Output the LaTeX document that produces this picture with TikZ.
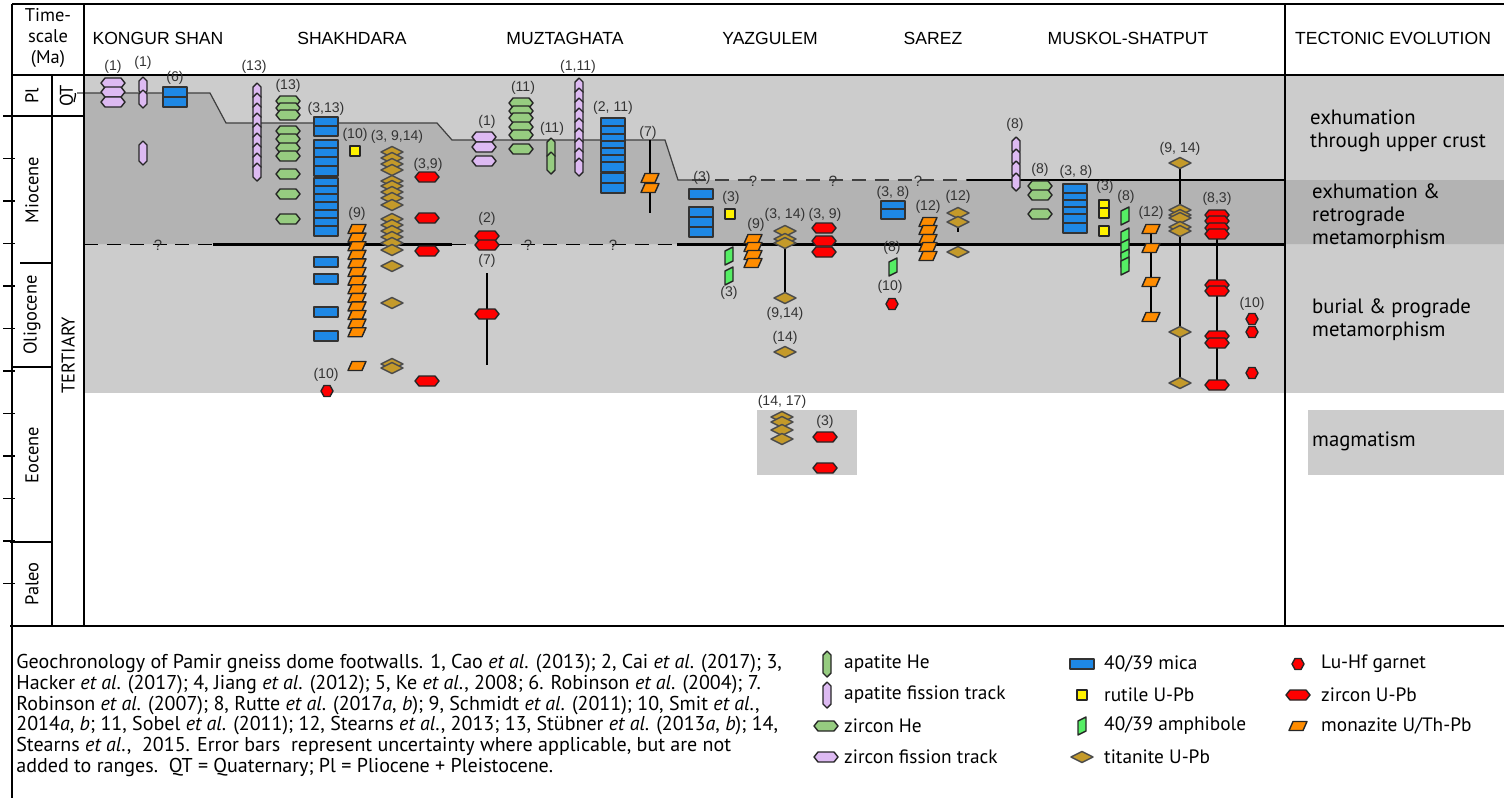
\documentclass[tikz,border=0pt]{standalone}
\usepackage{fontspec}
\setmainfont{Liberation Sans}
\newfontfamily\myriad{PT Sans}
\usetikzlibrary{calc}

\definecolor{lightbg}{RGB}{204,204,204}
\definecolor{darkbg}{RGB}{179,179,179}
\definecolor{lblgray}{RGB}{51,51,51}
\definecolor{ftpurple}{RGB}{221,186,242}
\definecolor{hegreen}{RGB}{150,204,128}
\definecolor{micablue}{RGB}{30,136,229}
\definecolor{amphgreen}{RGB}{85,238,100}
\definecolor{ttngold}{RGB}{196,154,42}
\definecolor{mnzorange}{RGB}{255,140,0}

\tikzset{
  sym/.style={draw=black!85, line width=0.8pt, line join=round},
  bar/.style={line width=1.6pt},
  frame/.style={line width=1.2pt},
  lbl/.style={text=lblgray, font=\fontsize{8}{9}\selectfont, inner sep=0pt},
  hdr/.style={font=\fontsize{10}{11}\selectfont},
  tect/.style={anchor=west, align=left, font=\myriad\fontsize{11.8}{13}\selectfont},
  legtxt/.style={anchor=west, font=\myriad\fontsize{11}{12}\selectfont},
  pics/aft/.style={code={\draw[sym,fill=ftpurple] (0,-#1)--(4,-#1+4)--(4,#1-4)--(0,#1)--(-4,#1-4)--(-4,-#1+4)--cycle;}},
  pics/aft/.default=11,
  pics/ahe/.style={code={\draw[sym,fill=hegreen] (0,-#1)--(4,-#1+4)--(4,#1-4)--(0,#1)--(-4,#1-4)--(-4,-#1+4)--cycle;}},
  pics/ahe/.default=11,
  pics/zft/.style={code={\draw[sym,fill=ftpurple] (-12,0)--(-8,-5)--(8,-5)--(12,0)--(8,5)--(-8,5)--cycle;}},
  pics/zhe/.style={code={\draw[sym,fill=hegreen] (-12,0)--(-8,-5)--(8,-5)--(12,0)--(8,5)--(-8,5)--cycle;}},
  pics/zup/.style={code={\draw[sym,fill=red] (-12,0)--(-8,-5)--(8,-5)--(12,0)--(8,5)--(-8,5)--cycle;}},
  pics/mica/.style={code={\draw[sym,draw=black!80,fill=micablue] (-12,-5) rectangle (12,5);}},
  pics/rut/.style={code={\draw[sym,fill=yellow] (-5,-5) rectangle (5,5);}},
  pics/amph/.style={code={\draw[sym,fill=amphgreen] (-4,-5)--(4,-9)--(4,5)--(-4,9)--cycle;}},
  pics/ttn/.style={code={\draw[sym,draw=black!70,fill=ttngold] (-11,0)--(0,-5.5)--(11,0)--(0,5.5)--cycle;}},
  pics/grt/.style={code={\draw[sym,fill=red] (-6,0)--(-3,-5.5)--(3,-5.5)--(6,0)--(3,5.5)--(-3,5.5)--cycle;}},
  pics/mnz/.style={code={\draw[sym,fill=mnzorange] (-9,4.5)--(-5,-4.5)--(9,-4.5)--(5,4.5)--cycle;}},
}

\begin{document}
\begin{tikzpicture}[x=0.02cm,y=-0.02cm]
\useasboundingbox (0,0) rectangle (1504,798);

% shaded bands
\fill[lightbg] (84,75) rectangle (1504,393);
\fill[darkbg] (84,93) -- (210,93) -- (226,123) -- (437,123) -- (452,140) -- (665,140)
  -- (678,180) -- (1504,180) -- (1504,244) -- (84,244) -- cycle;
\fill[lightbg] (757,410) rectangle (857,475);
\fill[lightbg] (1308,410) rectangle (1504,475);

% exhumation path and band limits
\draw[black!75, line width=0.7pt] (77,93) -- (210,93) -- (226,123) -- (437,123) -- (452,140)
  -- (665,140) -- (678,180) -- (692,180);
\draw[black!75, line width=0.8pt, dash pattern=on 8pt off 5pt] (692,180) -- (967,180);
\draw[frame] (967,180) -- (1285,180);
\draw[line width=1pt, dash pattern=on 8pt off 5pt] (84,244.5) -- (213,244.5);
\draw[frame] (213,244.5) -- (452,244.5);
\draw[line width=1pt, dash pattern=on 8pt off 5pt] (452,244.5) -- (677,244.5);
\draw[frame] (677,244.5) -- (1285,244.5);
\foreach \x/\y [count=\i] in {158/245,528/245,613/245,753/181,833/181,918/181}
  \node[lbl, font=\fontsize{8.5}{9}\selectfont] (q\i) at (\x,\y) {?};

% frame and time scale
\draw[frame] (12,4) -- (1504,4);
\draw[frame] (12,75) -- (1504,75);
\draw[frame] (10,626) -- (1504,626);
\draw[line width=1pt] (12,4) -- (12,798);
\draw[line width=1.5pt] (84,4) -- (84,626);
\draw[line width=1.5pt] (1285,4) -- (1285,626);
\draw[line width=0.7pt] (52,75) -- (52,626);
\draw[line width=0.8pt] (3,116) -- (85,116);
\foreach \k in {0,...,10}
  \draw[line width=0.8pt] (3,{158.5+42.5*\k}) -- (15,{158.5+42.5*\k});
\draw[line width=0.7pt] (20,263) -- (52,263);
\draw[line width=0.7pt] (12,367) -- (52,367);
\draw[line width=0.7pt] (10,542) -- (52,542);

\node[align=center, font=\myriad\fontsize{10.5}{12}\selectfont] (tscale) at (48,38) {Time-\\scale\\(Ma)};
\node[rotate=90, font=\myriad\fontsize{10.5}{12}\selectfont] (pl) at (32,96) {Pl};
\node[rotate=90, font=\myriad\fontsize{10.5}{12}\selectfont] (qt) at (68,96) {QT};
\node[rotate=90, font=\myriad\fontsize{10.5}{12}\selectfont] (mio) at (32,190) {Miocene};
\node[rotate=90, font=\myriad\fontsize{10.5}{12}\selectfont] (oli) at (32,315) {Oligocene};
\node[rotate=90, font=\myriad\fontsize{10.5}{12}\selectfont] (eoc) at (32,455) {Eocene};
\node[rotate=90, font=\myriad\fontsize{10.5}{12}\selectfont] (pal) at (32,584) {Paleo};
\node[rotate=90, font=\myriad\fontsize{10.5}{12}\selectfont] (ter) at (68,355) {TERTIARY};

% column headers
\node[hdr] (kongur) at (158,38) {KONGUR SHAN};
\node[hdr] (shakh) at (352,38) {SHAKHDARA};
\node[hdr] (muzt) at (565,38) {MUZTAGHATA};
\node[hdr] (yazg) at (770,38) {YAZGULEM};
\node[hdr] (sarez) at (933,38) {SAREZ};
\node[hdr] (musk) at (1128,38) {MUSKOL-SHATPUT};
\node[hdr] (tecto) at (1393,38) {TECTONIC EVOLUTION};

% error bars
\draw[bar] (650,140) -- (650,213);
\draw[bar] (487,273) -- (487,365);
\draw[bar] (785,243) -- (785,298);
\draw[bar] (958,222) -- (958,232);
\draw[bar] (1151,229) -- (1151,317);
\draw[bar] (1180,163) -- (1180,383);
\draw[bar] (1217,234) -- (1217,385);

% KONGUR SHAN
\foreach \y in {83,92,102} \pic at (113,\y) {zft};
\foreach \y in {86,99} \pic at (143,\y) {aft=9};
\pic at (143,153) {aft=12};
\foreach \y in {92,102} \pic at (175,\y) {mica};
\node[lbl] (ks1) at (113,67) {(1)};
\node[lbl] (ks2) at (143,63) {(1)};
\node[lbl] (ks3) at (175,78) {(6)};

% SHAKHDARA
\foreach \y in {92,102,...,172} \pic at (257,\y) {aft=9};
\foreach \y in {101,108,115,131,139,148,156,174,194,219} \pic at (288,\y) {zhe};
\foreach \y in {122,131,145,153,162,171,183,191,199,207,215,223,231,262,279,312,336} \pic at (326,\y) {mica};
\pic at (355,151) {rut};
\foreach \i in {0,...,12} \pic at (357,{229+8.6*\i}) {mnz};
\pic at (357,366) {mnz};
\foreach \y in {152,158,164,170,181,186,192,198,205,219,225,231,237,243,250,266,303,364,368} \pic at (392,\y) {ttn};
\foreach \y in {177,218,251,381} \pic at (427,\y) {zup};
\pic at (327,391) {grt};
\node[lbl] (sh1) at (254,67) {(13)};
\node[lbl] (sh2) at (288,86) {(13)};
\node[lbl] (sh3) at (326,109) {(3,13)};
\node[lbl] (sh4) at (355,135) {(10)};
\node[lbl] (sh5) at (397,137) {(3, 9,14)};
\node[lbl] (sh6) at (428,165) {(3,9)};
\node[lbl] (sh7) at (357,214) {(9)};
\node[lbl] (sh8) at (326,375) {(10)};

% MUZTAGHATA
\foreach \y in {137,147,161} \pic at (484,\y) {zft};
\foreach \y in {103,111,118,127,135,149} \pic at (521,\y) {zhe};
\foreach \y in {149,163} \pic at (551,\y) {ahe=11};
\foreach \y in {87,97,...,167} \pic at (579,\y) {aft=9};
\foreach \y in {123,131,139,146,153,160,167,178,188} \pic at (613,\y) {mica};
\foreach \y in {178,188} \pic at (650,\y) {mnz};
\foreach \y in {236,245,314} \pic at (487,\y) {zup};
\node[lbl] (mz1) at (487,122) {(1)};
\node[lbl] (mz2) at (523,88) {(11)};
\node[lbl] (mz3) at (552,129) {(11)};
\node[lbl] (mz4) at (578,67) {(1,11)};
\node[lbl] (mz5) at (613,108) {(2, 11)};
\node[lbl] (mz6) at (648,133) {(7)};
\node[lbl] (mz7) at (487,219) {(2)};
\node[lbl] (mz8) at (487,261) {(7)};

% YAZGULEM
\foreach \y in {194,212,222,232} \pic at (701,\y) {mica};
\pic at (730,214) {rut};
\foreach \y in {256,276} \pic at (729,\y) {amph};
\foreach \y in {239,247,255,263} \pic at (753,\y) {mnz};
\foreach \y in {231,239,243,298,352} \pic at (785,\y) {ttn};
\foreach \y in {228,241,252} \pic at (824,\y) {zup};
\foreach \y in {417,422,430,439} \pic at (782,\y) {ttn};
\foreach \y in {437,468} \pic at (825,\y) {zup};
\node[lbl] (yz1) at (702,178) {(3)};
\node[lbl] (yz2) at (731,198) {(3)};
\node[lbl] (yz3) at (729,293) {(3)};
\node[lbl] (yz4) at (756,225) {(9)};
\node[lbl] (yz5) at (785,215) {(3, 14)};
\node[lbl] (yz6) at (825,215) {(3, 9)};
\node[lbl] (yz7) at (785,314) {(9,14)};
\node[lbl] (yz8) at (785,338) {(14)};
\node[lbl] (yz9) at (782,402) {(14, 17)};
\node[lbl] (yz10) at (825,422) {(3)};

% SAREZ
\foreach \y in {206,214} \pic at (893,\y) {mica};
\pic at (893,267) {amph};
\pic at (892,304) {grt};
\foreach \y in {222,230,239,247,256} \pic at (928,\y) {mnz};
\foreach \y in {213,222,252} \pic at (958,\y) {ttn};
\node[lbl] (sz1) at (893,193) {(3, 8)};
\node[lbl] (sz2) at (892,248) {(8)};
\node[lbl] (sz3) at (890,287) {(10)};
\node[lbl] (sz4) at (928,207) {(12)};
\node[lbl] (sz5) at (958,197) {(12)};

% MUSKOL-SHATPUT
\foreach \y in {146,158,170,182} \pic at (1016,\y) {aft=9};
\foreach \y in {186,195,214} \pic at (1040,\y) {zhe};
\foreach \y in {189,198,205,212,219,228} \pic at (1075,\y) {mica};
\foreach \y in {205,213,231} \pic at (1104,\y) {rut};
\foreach \y in {216,237,248,258,266} \pic at (1125,\y) {amph};
\foreach \y in {229,248,282,317} \pic at (1151,\y) {mnz};
\foreach \y in {163,210,215,218,227,231,332,383} \pic at (1180,\y) {ttn};
\foreach \y in {215,221,228,234,285,291,336,343,385} \pic at (1217,\y) {zup};
\foreach \y in {319,332,373} \pic at (1252,\y) {grt};
\node[lbl] (ms1) at (1015,125) {(8)};
\node[lbl] (ms2) at (1040,170) {(8)};
\node[lbl] (ms3) at (1076,172) {(3, 8)};
\node[lbl] (ms4) at (1105,187) {(3)};
\node[lbl] (ms5) at (1126,197) {(8)};
\node[lbl] (ms6) at (1151,213) {(12)};
\node[lbl] (ms7) at (1180,149) {(9, 14)};
\node[lbl] (ms8) at (1217,199) {(8,3)};
\node[lbl] (ms9) at (1252,304) {(10)};

% tectonic evolution
\node[tect] (ev1) at (1304,131) {exhumation\\through upper crust};
\node[tect] (ev2) at (1306,216) {exhumation \&\\retrograde\\metamorphism};
\node[tect] (ev3) at (1306,320) {burial \& prograde\\metamorphism};
\node[tect] (ev4) at (1306,441) {magmatism};

% caption
\node[anchor=north west, align=left, inner sep=0pt, font=\myriad\fontsize{11.4}{11.8}\selectfont] (capt) at (16,654) {%
Geochronology of Pamir gneiss dome footwalls. 1, Cao \textit{et al}. (2013); 2, Cai \textit{et al}. (2017); 3,\\
Hacker \textit{et al}. (2017); 4, Jiang \textit{et al}. (2012); 5, Ke \textit{et al}., 2008; 6. Robinson \textit{et al}. (2004); 7.\\
Robinson \textit{et al}. (2007); 8, Rutte \textit{et al}. (2017\textit{a}, \textit{b}); 9, Schmidt \textit{et al}. (2011); 10, Smit \textit{et al}.,\\
2014\textit{a}, \textit{b}; 11, Sobel \textit{et al}. (2011); 12, Stearns \textit{et al}., 2013; 13, St\"ubner \textit{et al}. (2013\textit{a}, \textit{b}); 14,\\
Stearns \textit{et al}.,\ \ 2015. Error bars\ \ represent uncertainty where applicable, but are not\\
added to ranges.\ \ QT = Quaternary; Pl = Pliocene + Pleistocene.};

% legend
\pic at (827,664) {ahe=13};
\pic at (827,695) {aft=13};
\pic at (826,726) {zhe};
\pic at (826,757) {zft};
\node[legtxt] (lg1) at (838,664) {apatite He};
\node[legtxt] (lg2) at (838,695) {apatite fission track};
\node[legtxt] (lg3) at (838,726) {zircon He};
\node[legtxt] (lg4) at (838,757) {zircon fission track};
\pic at (1082,664) {mica};
\pic at (1082,695) {rut};
\pic at (1082,726) {amph};
\pic at (1082,757) {ttn};
\node[legtxt] (lg5) at (1098,664) {40/39 mica};
\node[legtxt] (lg6) at (1098,695) {rutile U-Pb};
\node[legtxt] (lg7) at (1098,726) {40/39 amphibole};
\node[legtxt] (lg8) at (1098,757) {titanite U-Pb};
\pic at (1298,664) {grt};
\pic at (1298,695) {zup};
\pic at (1298,726) {mnz};
\node[legtxt] (lg9) at (1315,664) {Lu-Hf garnet};
\node[legtxt] (lg10) at (1315,695) {zircon U-Pb};
\node[legtxt] (lg11) at (1315,726) {monazite U/Th-Pb};
\end{tikzpicture}
\end{document}
